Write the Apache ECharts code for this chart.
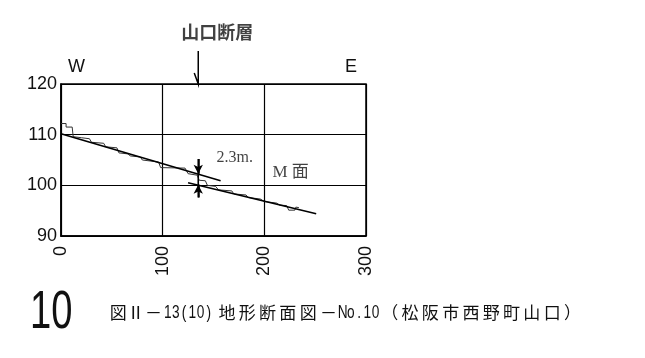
<!DOCTYPE html>
<html><head><meta charset="utf-8">
<script src="https://cdn.jsdelivr.net/npm/echarts@6/dist/echarts.min.js"></script>
<style>html,body{margin:0;padding:0;background:#fff}#c{width:645px;height:358px}</style>
</head><body><div id="c"></div>
<script>
// ---- data ----
const xTicks = [0, 100, 200, 300];
const yTicks = [90, 100, 110, 120];
const profileX = [0,5,5,11,12,20,28,30,42,44,55,57,66,68,78,80,96,98,122,125,134,136,142,144,152,155,168,170,182,184,196,200,212,215,222,224,230,231,234];
const profileY = [112.2,112.2,111.5,111.5,109.6,109.4,109.2,108.5,108.3,107.6,107.4,106.4,106.2,105.8,105.6,105.0,104.6,103.5,103.4,102.3,102.0,101.0,100.9,100.0,99.8,99.1,98.9,98.3,98.1,97.6,97.3,96.8,96.5,96.1,96.0,95.1,95.1,95.7,95.6];
const upperFitX = [0, 157];
const upperFitY = [110.2, 100.9];
const lowerFitX = [125, 251];
const lowerFitY = [100.5, 94.4];
const faultX = 135;
const offsetTop = [105.2, 102.3];   // arrow from, to (upper surface)
const offsetBottom = [97.6, 100.1]; // arrow from, to (lower surface)
const faultArrowY = [126.5, 120];
const offsetLabel = '2.3m.';
const offsetLabelPos = [153, 105.4];
const surfaceLabel = 'M 面';
const surfaceLabelPos = [208, 102.6];
const faultName = '山口断層';
const caption = '図Ⅱ－13(10)　地形断面図－No.10（松阪市西野町山口）';
const figNo = '10';

const zip = (xs, ys) => xs.map((x, i) => [x, ys[i]]);
const chart = echarts.init(document.getElementById('c'));
const numFont = 'Liberation Sans, Arial, sans-serif';
chart.setOption({
  animation: false,
  grid: {left: 61, right: 279, top: 84, bottom: 122, show: true, borderColor: '#000', borderWidth: 1.5},
  xAxis: {type: 'value', min: xTicks[0], max: xTicks[xTicks.length-1], interval: 100,
    axisLine: {show: true, lineStyle: {color: '#000', width: 1.5}}, axisTick: {show: false},
    splitLine: {show: true, lineStyle: {color: '#000', width: 1.2}},
    axisLabel: {rotate: 90, margin: 10, fontSize: 18, color: '#111', fontFamily: numFont}},
  yAxis: {type: 'value', min: yTicks[0], max: yTicks[yTicks.length-1], interval: 10,
    axisLine: {show: true, lineStyle: {color: '#000', width: 1.5}}, axisTick: {show: false},
    splitLine: {show: true, lineStyle: {color: '#000', width: 1.2}},
    axisLabel: {margin: 4, fontSize: 18, color: '#111', fontFamily: numFont}},
  series: [
    {type: 'line', data: zip(profileX, profileY), symbol: 'none', lineStyle: {color: '#333', width: 1}},
    {type: 'line', data: zip(upperFitX, upperFitY), symbol: 'none', lineStyle: {color: '#000', width: 1.6}},
    {type: 'line', data: zip(lowerFitX, lowerFitY), symbol: 'none', lineStyle: {color: '#000', width: 1.6}},
    {type: 'line', data: [[faultX, offsetTop[0]], [faultX, offsetBottom[0]]], symbol: 'none',
      lineStyle: {color: '#000', width: 1.6},
      markLine: {silent: true, symbol: ['none', 'arrow'], symbolSize: [7, 9], label: {show: false},
        lineStyle: {color: '#000', width: 1.6, type: 'solid'},
        data: [
          [{coord: [faultX, offsetTop[0]]}, {coord: [faultX, offsetTop[1]]}],
          [{coord: [faultX, offsetBottom[0]]}, {coord: [faultX, offsetBottom[1]]}]
        ]}},
    {type: 'scatter', symbolSize: 0, clip: false, silent: true,
      data: [
        {value: offsetLabelPos, label: {show: true, position: 'right', distance: 0, formatter: offsetLabel,
          fontFamily: 'Liberation Serif, serif', fontSize: 16, color: '#111'}},
        {value: surfaceLabelPos, label: {show: true, position: 'right', distance: 0, formatter: surfaceLabel,
          fontFamily: 'Liberation Serif, Noto Sans CJK JP, serif', fontSize: 17, color: '#111'}},
        {value: [faultX, 130.2], label: {show: true, position: 'inside', offset: [19, 0], formatter: faultName,
          fontFamily: 'Noto Sans CJK JP', fontSize: 18, fontWeight: 'bold', color: '#111'}}
      ]}
  ]
});

// fault arrow above the plot (computed from the axis scale)
const pTop = chart.convertToPixel({gridIndex: 0}, [faultX, faultArrowY[0]]);
const pTip = chart.convertToPixel({gridIndex: 0}, [faultX, faultArrowY[1]]);

// caption laid out character by character (wide glyph spacing in the original)
function adv(ch) {
  if (ch === '　') return 4;
  if (ch === 'Ⅱ') return 15;
  if (/[\x20-\x7e]/.test(ch)) return 8.2;
  return 20.3;
}
const capEls = [];
let cx = 108;
for (const ch of caption) {
  const a = adv(ch);
  const ascii = /[\x20-\x7e]/.test(ch);
  capEls.push({type: 'text', x: cx + a / 2, y: 313, scaleX: ascii ? 0.72 : 1,
    style: {text: ch, font: (ascii ? '19px "Liberation Sans"' : '17px "Noto Sans CJK JP"'), fill: '#111',
      textAlign: 'center', textVerticalAlign: 'middle'}});
  cx += a;
}

chart.setOption({
  graphic: [
    {type: 'polyline', shape: {points: [[pTop[0], pTop[1]], [pTip[0], pTip[1]], [pTip[0] - 4, pTip[1] - 11]]},
      style: {stroke: '#000', lineWidth: 1.5, fill: null}},
    {type: 'text', left: 68, top: 58, style: {text: 'W', font: '18px Liberation Sans', fill: '#111'}},
    {type: 'text', left: 345, top: 58, style: {text: 'E', font: '18px Liberation Sans', fill: '#111'}},
    {type: 'text', x: 30, y: 287, scaleX: 0.72, style: {text: figNo, font: '53px Liberation Sans', fill: '#111'}}
  ].concat(capEls)
});
</script></body></html>
